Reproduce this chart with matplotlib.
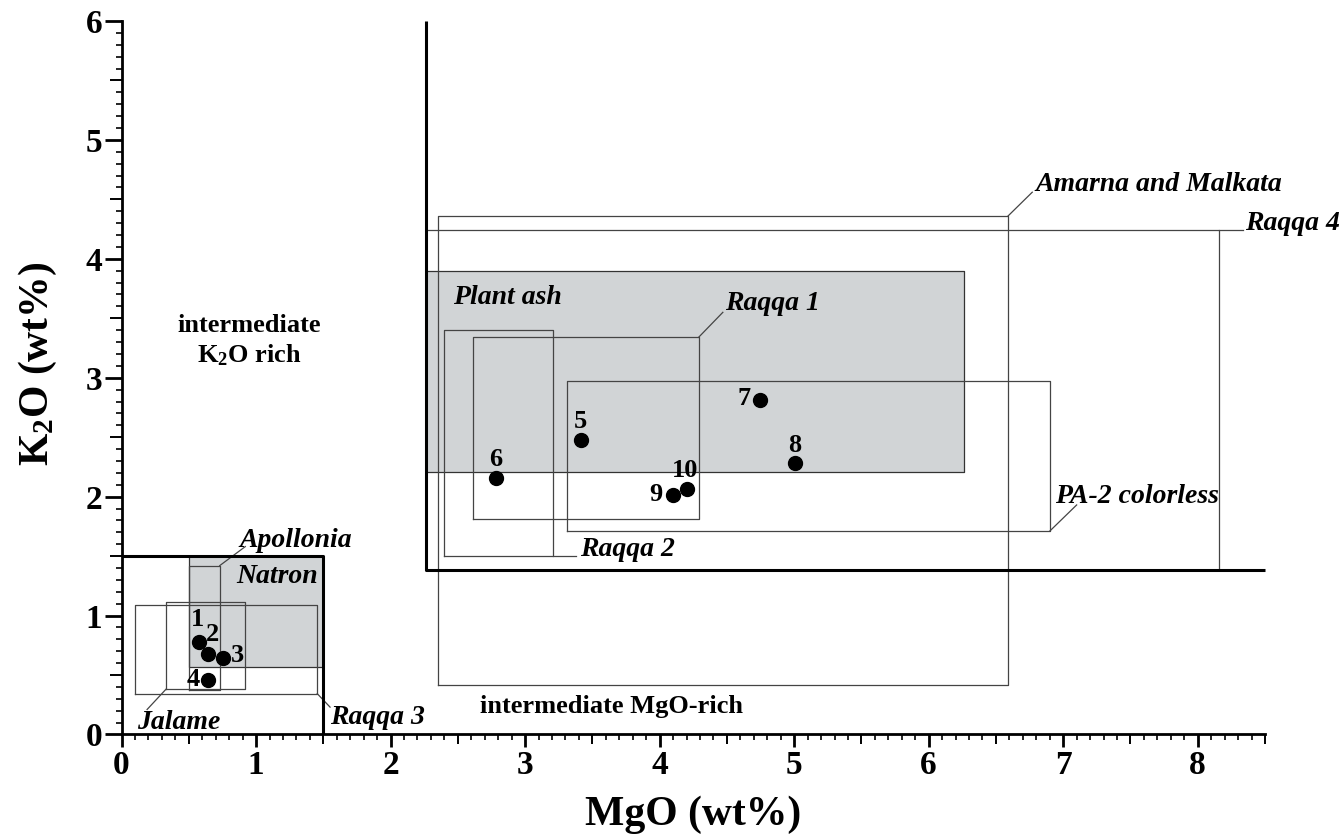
import matplotlib
matplotlib.use('Agg')
import matplotlib.pyplot as plt
from matplotlib.ticker import MultipleLocator, FuncFormatter

plt.rcParams['font.family'] = 'Liberation Serif'
plt.rcParams['font.weight'] = 'bold'
plt.rcParams['axes.labelweight'] = 'bold'
plt.rcParams['mathtext.fontset'] = 'custom'
plt.rcParams['mathtext.rm'] = 'Liberation Serif:bold'
plt.rcParams['mathtext.it'] = 'Liberation Serif:bold:italic'
plt.rcParams['mathtext.bf'] = 'Liberation Serif:bold'

# compositional fields (MgO / K2O ranges, wt%)
box_names = ['Amarna and Malkata', 'Raqqa 4', 'Raqqa 1', 'Raqqa 2', 'PA-2 colorless',
             'Apollonia', 'Jalame', 'Raqqa 3']
box_mgo_min = [2.35, 2.26, 2.61, 2.40, 3.31, 0.50, 0.33, 0.10]
box_mgo_max = [6.59, 8.16, 4.29, 3.21, 6.90, 0.73, 0.92, 1.455]
box_k2o_min = [0.42, 1.38, 1.81, 1.50, 1.71, 0.37, 0.38, 0.343]
box_k2o_max = [4.36, 4.245, 3.34, 3.40, 2.97, 1.42, 1.11, 1.086]

field_names = ['Natron', 'Plant ash']
field_mgo_min = [0.50, 2.26]
field_mgo_max = [1.50, 6.26]
field_k2o_min = [0.57, 2.21]
field_k2o_max = [1.50, 3.90]

# boundaries of the natron and plant ash domains
natron_mgo = [0, 1.5, 1.5]
natron_k2o = [1.5, 1.5, 0]
plantash_mgo = [2.26, 2.26, 8.5]
plantash_k2o = [6.0, 1.38, 1.38]

# analysed samples
sample_ids = ['1', '2', '3', '4', '5', '6', '7', '8', '9', '10']
sample_mgo = [0.578, 0.643, 0.752, 0.643, 3.414, 2.782, 4.747, 5.007, 4.103, 4.202]
sample_k2o = [0.780, 0.679, 0.640, 0.458, 2.477, 2.155, 2.813, 2.284, 2.015, 2.063]

# layout of the labels (leader start is the box corner, then leader end, text anchor)
box_corner = [(6.59, 4.36), (8.16, 4.245), (4.29, 3.34), (3.21, 1.50), (6.90, 1.71),
              (0.73, 1.42), (0.33, 0.38), (1.455, 0.343)]
leader_end = [(6.77, 4.56), (8.34, 4.245), (4.47, 3.55), (3.38, 1.50), (7.10, 1.93),
              (0.92, 1.58), (0.19, 0.21), (1.55, 0.23)]
box_text_xy = [(6.79, 4.57), (8.35, 4.245), (4.49, 3.57), (3.41, 1.50), (6.94, 1.95),
               (0.876, 1.58), (0.113, 0.05), (1.55, 0.09)]
field_text_xy = [(0.851, 1.27), (2.464, 3.617)]
id_offsets = [(-1, 16), (3, 13.5), (10.5, 2), (-11, 0), (0, 13),
              (0, 13.5), (-11.5, 1), (0, 12.5), (-12.5, 0), (-1, 13.5)]

fig = plt.figure(figsize=(13.43, 8.39), dpi=100)
ax = fig.add_axes([0.0905, 0.1246, 0.8514, 0.8504])

for i in range(len(field_names)):
    ax.fill_between([field_mgo_min[i], field_mgo_max[i]], field_k2o_min[i], field_k2o_max[i],
                    facecolor='#d1d4d6', edgecolor='#333333', linewidth=0.9, zorder=1)
    ax.text(field_text_xy[i][0], field_text_xy[i][1], field_names[i], fontsize=20,
            style='italic', ha='left', va='baseline', zorder=6)

for i in range(len(box_names)):
    x0, x1 = box_mgo_min[i], box_mgo_max[i]
    y0, y1 = box_k2o_min[i], box_k2o_max[i]
    ax.plot([x0, x1, x1, x0, x0], [y0, y0, y1, y1, y0], color='#444444', lw=0.9, zorder=2)
    ax.plot([box_corner[i][0], leader_end[i][0]], [box_corner[i][1], leader_end[i][1]],
            color='#444444', lw=0.9, zorder=2, clip_on=False)
    ax.text(box_text_xy[i][0], box_text_xy[i][1], box_names[i], fontsize=20,
            style='italic', ha='left', va='baseline', zorder=6)

ax.plot(natron_mgo, natron_k2o, color='black', lw=2.2, zorder=3, solid_capstyle='butt')
ax.plot(plantash_mgo, plantash_k2o, color='black', lw=2.2, zorder=3, solid_capstyle='butt',
        clip_on=False)

ax.plot(sample_mgo, sample_k2o, 'o', color='black', markersize=10, zorder=5)
for i in range(len(sample_ids)):
    ax.annotate(sample_ids[i], (sample_mgo[i], sample_k2o[i]), xytext=id_offsets[i],
                textcoords='offset points', ha='center', va='center', fontsize=19, zorder=6)

ax.text(0.95, 3.31, 'intermediate\nK$_2$O rich', fontsize=19, ha='center', va='center',
        linespacing=1.3)
ax.text(3.645, 0.234, 'intermediate MgO-rich', fontsize=19, ha='center', va='center')

ax.set_xlim(0, 8.5)
ax.set_ylim(0, 6)
ax.spines['top'].set_visible(False)
ax.spines['right'].set_visible(False)
ax.spines['left'].set_linewidth(2)
ax.spines['bottom'].set_linewidth(2)

def int_only(v, pos):
    return f'{v:.0f}' if abs(v - round(v)) < 1e-6 else ''

ax.xaxis.set_major_locator(MultipleLocator(0.5))
ax.xaxis.set_minor_locator(MultipleLocator(0.1))
ax.yaxis.set_major_locator(MultipleLocator(0.5))
ax.yaxis.set_minor_locator(MultipleLocator(0.1))
ax.xaxis.set_major_formatter(FuncFormatter(int_only))
ax.yaxis.set_major_formatter(FuncFormatter(int_only))
ax.tick_params(axis='x', which='major', direction='out', length=9, width=2, labelsize=24, pad=2)
ax.tick_params(axis='x', which='minor', direction='out', length=4.5, width=1.2)
ax.tick_params(axis='y', which='major', direction='out', length=12, width=2, labelsize=24, pad=2)
ax.tick_params(axis='y', which='minor', direction='out', length=4.5, width=1.2)

for axis, half_len in ((ax.xaxis, 7), (ax.yaxis, 9)):
    for loc, tick in zip(axis.get_majorticklocs(), axis.get_major_ticks()):
        if abs(loc - round(loc)) > 1e-6:
            tick.tick1line.set_markersize(half_len)
            tick.tick1line.set_markeredgewidth(1.4)

ax.set_xlabel('MgO (wt%)', fontsize=30, fontweight='bold')
ax.set_ylabel('K$_2$O (wt%)', fontsize=30, fontweight='bold')
ax.xaxis.set_label_coords(0.5, -0.085)
ax.yaxis.set_label_coords(-0.055, 0.52)

fig.savefig('out.png', dpi=100)
